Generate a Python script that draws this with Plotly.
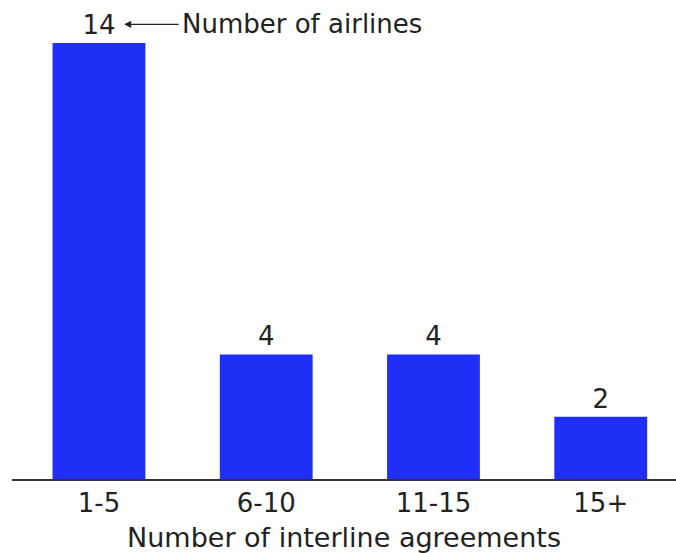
import plotly.graph_objects as go

# Distribution of airlines by number of interline agreements
categories = ["1-5", "6-10", "11-15", "15+"]
airlines = [14, 4, 4, 2]

bar_color = "#1f2ff5"
text_color = "#222222"
font_family = "'DejaVu Sans', Verdana, sans-serif"
font_size = 26

fig = go.Figure(
    go.Bar(
        x=list(range(len(categories))),
        y=airlines,
        marker=dict(color=bar_color, line=dict(width=0)),
        text=airlines,
        texttemplate="%{text}",
        textposition="outside",
        textfont=dict(size=font_size, color=text_color, family=font_family),
        cliponaxis=False,
        width=0.555,
    )
)

# Callout explaining the bar labels
callout_y = airlines[0] + 0.6
fig.add_annotation(
    x=0.15, y=callout_y, xref="x", yref="y",
    ax=56, ay=0, text="", showarrow=True,
    arrowhead=2, arrowsize=1.1, arrowwidth=1.3, arrowcolor=text_color,
)
fig.add_annotation(
    x=0.487, y=callout_y, xref="x", yref="y",
    text="Number of airlines", showarrow=False,
    xanchor="left", yanchor="middle",
    font=dict(size=font_size, color=text_color, family=font_family),
)

fig.update_layout(
    width=676, height=553,
    margin=dict(l=12, r=0, t=20, b=74),
    plot_bgcolor="white", paper_bgcolor="white",
    showlegend=False,
    font=dict(family=font_family, color=text_color),
    xaxis=dict(
        tickmode="array",
        tickvals=list(range(len(categories))),
        ticktext=categories,
        range=[-0.52, 3.45],
        showgrid=False, zeroline=False,
        showline=True, linecolor="#333333", linewidth=1.5,
        ticks="", tickfont=dict(size=font_size, color=text_color),
        title=dict(text="Number of interline agreements",
                   font=dict(size=27, color=text_color), standoff=14),
    ),
    yaxis=dict(
        range=[0, 14.74],
        visible=False,
        showgrid=False, zeroline=False,
    ),
)

fig.write_html("out.html")
